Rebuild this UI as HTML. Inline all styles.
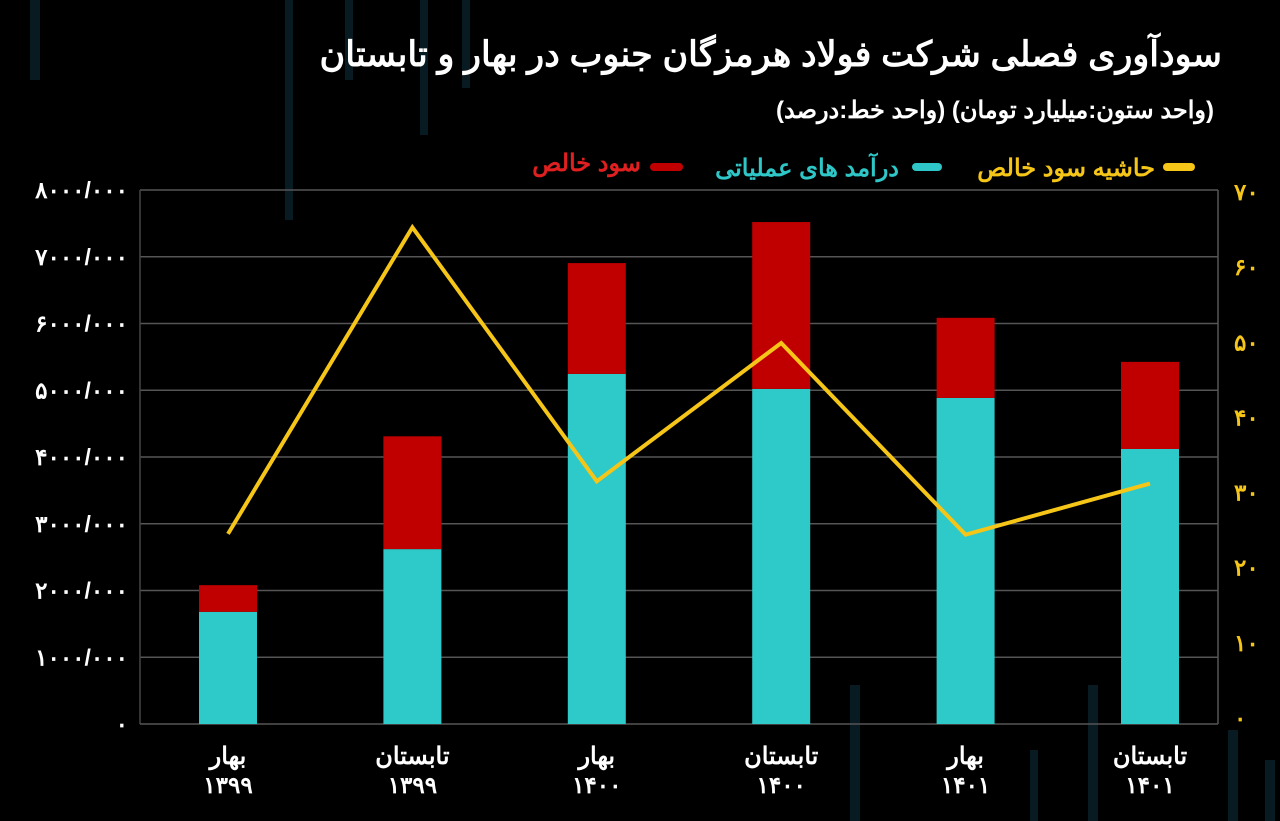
<!DOCTYPE html>
<html><head><meta charset="utf-8">
<style>
body{margin:0;background:#000;width:1280px;height:821px;overflow:hidden;font-family:"Liberation Sans","Noto Sans CJK SC",sans-serif;}
svg{display:block}
</style></head>
<body>
<svg id="chart" width="1280" height="821" viewBox="0 0 1280 821">
  <g fill="#081a22">
    <rect x="30" y="0" width="10" height="80"/><rect x="285" y="0" width="8" height="220"/>
    <rect x="345" y="0" width="8" height="80"/><rect x="420" y="0" width="8" height="135"/>
    <rect x="462" y="0" width="8" height="88"/><rect x="850" y="685" width="10" height="136"/>
    <rect x="1088" y="685" width="10" height="136"/><rect x="1228" y="730" width="10" height="91"/>
    <rect x="1265" y="760" width="10" height="61"/><rect x="1030" y="750" width="8" height="71"/>
  </g>
  <text x="1222" y="66" text-anchor="start" direction="rtl" font-size="35" font-weight="bold" fill="#fff">سودآوری فصلی شرکت فولاد هرمزگان جنوب در بهار و تابستان</text>
  <text x="1214" y="118" text-anchor="start" direction="rtl" font-size="24" font-weight="bold" fill="#fff">(واحد ستون:میلیارد تومان) (واحد خط:درصد)</text>
  <g font-size="24" font-weight="bold">
    <rect x="1163" y="163" width="32" height="8" rx="4" fill="#f5c518"/>
    <text x="1155" y="176" text-anchor="start" direction="rtl" fill="#f5c518">حاشیه سود خالص</text>
    <rect x="912" y="163" width="30" height="8" rx="4" fill="#2ec6c6"/>
    <text x="899" y="176" text-anchor="start" direction="rtl" fill="#2ec6c6">درآمد های عملیاتی</text>
    <rect x="650" y="163" width="33" height="8" rx="4" fill="#c00000"/>
    <text x="641" y="171" text-anchor="start" direction="rtl" fill="#e02020">سود خالص</text>
  </g>
  <g id="grid"></g>
  <g id="bars"></g>
  <g id="line"></g>
  <g id="labels"></g>
</svg>
<script>
const categories=["بهار","تابستان","بهار","تابستان","بهار","تابستان"];
const years=["۱۳۹۹","۱۳۹۹","۱۴۰۰","۱۴۰۰","۱۴۰۱","۱۴۰۱"];
const revenue=[1680,2620,5245,5020,4885,4120];
const profit=[400,1690,1660,2500,1200,1305];
const margin=[24.5,65.3,31.5,49.9,24.4,31.2];
const leftTicks=["۰","۱۰۰۰/۰۰۰","۲۰۰۰/۰۰۰","۳۰۰۰/۰۰۰","۴۰۰۰/۰۰۰","۵۰۰۰/۰۰۰","۶۰۰۰/۰۰۰","۷۰۰۰/۰۰۰","۸۰۰۰/۰۰۰"];
const rightTicks=["۰","۱۰","۲۰","۳۰","۴۰","۵۰","۶۰","۷۰"];

const NS="http://www.w3.org/2000/svg";
const yL=v=>724-v*(534/8000);
const yR=v=>718-v*(526/70);
const xC=i=>228+i*184.4;
function mk(t,a,p){const e=document.createElementNS(NS,t);for(const k in a)e.setAttribute(k,a[k]);p.appendChild(e);return e;}
const grid=document.getElementById('grid'),bars=document.getElementById('bars'),line=document.getElementById('line'),labels=document.getElementById('labels');
leftTicks.forEach((t,i)=>{
  const y=yL(i*1000);
  if(i>0){const g=mk('line',{x1:140,x2:1218,y1:y,y2:y,stroke:'#555','stroke-width':1.5},grid);
  
  }
  const tx=mk('text',{x:128,y:y+8,'text-anchor':'end','font-size':23,'font-weight':'bold',fill:'#fff'},labels);tx.textContent=t;
  
  
});
rightTicks.forEach((t,i)=>{
  const tx=mk('text',{x:1234,y:yR(i*10)+8,'font-size':23,'font-weight':'bold',fill:'#f5c518'},labels);tx.textContent=t;
  
  
});
const ax1=mk('line',{x1:140,x2:140,y1:190,y2:724,stroke:'#444','stroke-width':1.5},grid);


const ax2=mk('line',{x1:1218,x2:1218,y1:190,y2:724,stroke:'#555','stroke-width':1.5},grid);


const ax3=mk('line',{x1:140,x2:1218,y1:724,y2:724,stroke:'#555','stroke-width':1.5},grid);


categories.forEach((c,i)=>{
  const x=xC(i)-29;
  const r1=mk('rect',{x:x,y:yL(revenue[i]),width:58,height:yL(0)-yL(revenue[i]),fill:'#2ec9c9'},bars);
  
  
  const r2=mk('rect',{x:x,y:yL(revenue[i]+profit[i]),width:58,height:yL(revenue[i])-yL(revenue[i]+profit[i]),fill:'#c00000'},bars);
  
  
  const t1=mk('text',{x:xC(i),y:764,'text-anchor':'middle',direction:'rtl','font-size':24,'font-weight':'bold',fill:'#fff'},labels);t1.textContent=c;
  
  
  const t2=mk('text',{x:xC(i),y:793,'text-anchor':'middle','font-size':23,'font-weight':'bold',fill:'#fff'},labels);t2.textContent=years[i];
  
  
});
const pl=mk('polyline',{points:margin.map((m,i)=>xC(i)+','+yR(m)).join(' '),fill:'none',stroke:'#f5c518','stroke-width':4,'stroke-linejoin':'miter'},line);


</script>
</body></html>
